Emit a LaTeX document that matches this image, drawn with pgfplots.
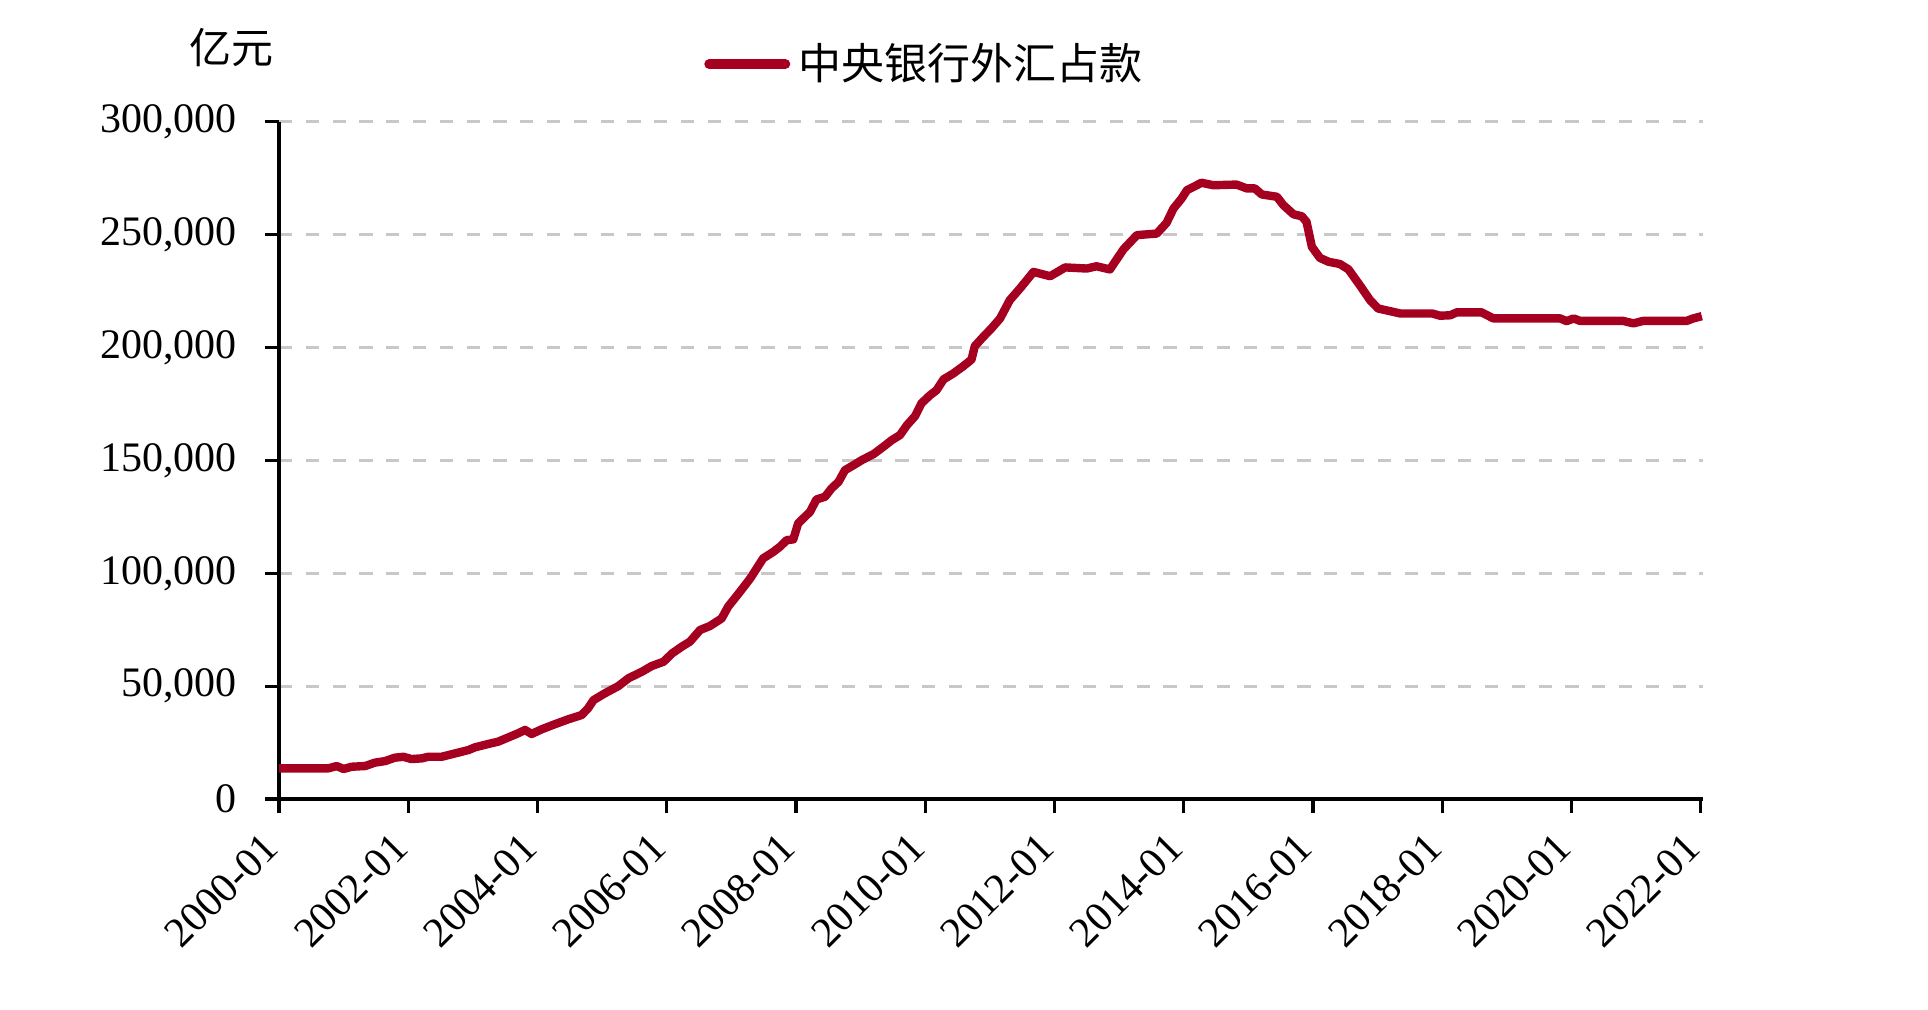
\documentclass[border=0pt]{standalone}
\usepackage{pgfplots}
\pgfplotsset{compat=1.18}
\usepackage{fontspec}
\setmainfont{Liberation Serif}
\newfontfamily\cjk{Noto Sans CJK SC}
\definecolor{lineRed}{RGB}{166,0,33}
\definecolor{gridGray}{RGB}{200,200,200}
\begin{document}
\begin{tikzpicture}
\useasboundingbox (-69.75bp,-52.75bp) rectangle (412.25bp,199.75bp);
\begin{axis}[
  at={(0,0)}, anchor=south west,
  scale only axis,
  width=356.1bp, height=169.3bp,
  xmin=0, xmax=264.5,
  ymin=0, ymax=300000,
  axis lines*=left,
  axis line style={black, line width=0.8bp},
  tick align=outside,
  major tick length=3.5bp,
  every tick/.style={black, line width=0.8bp},
  xtick={0,24,...,264},
  xticklabels={2000-01,2002-01,2004-01,2006-01,2008-01,2010-01,2012-01,2014-01,2016-01,2018-01,2020-01,2022-01},
  xticklabel style={yshift=-4.5bp, xshift=0.5bp, rotate=45, anchor=east},
  ytick={0,50000,...,300000},
  scaled y ticks=false,
  yticklabel style={xshift=-3.5bp, /pgf/number format/fixed, /pgf/number format/1000 sep={,}, /pgf/number format/assume math mode=true},
  tick label style={font=\fontsize{10.5bp}{12bp}\selectfont},
  ymajorgrids,
  major grid style={draw=gridGray, line width=0.7bp, dash pattern=on 3.3bp off 3.4bp},
  ylabel={\cjk 亿元},
  ylabel style={rotate=-90, at={(axis description cs:-0.033,1.109)}, anchor=center, font=\fontsize{10.5bp}{12bp}\selectfont},
  legend style={at={(axis description cs:0.298,1.0853)}, anchor=west, draw=none, fill=none, inner sep=0pt, font=\fontsize{10.75bp}{12bp}\selectfont\cjk},
  legend image code/.code={\draw[#1, line width=2.5bp, line cap=round] (0bp,0bp) -- (19bp,0bp);},
]
\addplot[lineRed, line width=2.1bp, line join=round, mark=none] table {
0 13600
9.2 13600
10.7 14600
12 13300
13.5 14300
16 14600
17.8 16100
19.7 16800
21.5 18300
23.1 18700
24.6 17700
26.5 18000
27.7 18700
30.2 18700
32.7 20200
35.2 21700
36.4 22900
38.9 24400
40.7 25400
42.6 27300
44.4 29100
45.7 30600
46.9 28800
48.8 30900
51.3 33200
53.7 35300
56.2 37200
57.4 40200
58.4 43800
60.5 46800
63 50000
64.9 53500
67.4 56400
69.2 58900
71.4 60800
73 64500
74.8 67500
76.3 69700
78.2 74900
80 76600
82.2 80000
83.4 85200
85.6 91800
87.5 97700
89.9 106600
91.8 109500
93 111700
94.3 114700
95.5 115000
96.4 122100
98.6 127200
99.8 132700
101.4 133900
102.6 137600
103.9 140500
105.1 145700
106.7 147900
108.2 150100
110.4 152800
112.2 156000
113.8 159000
115.3 161200
116.6 165600
118.1 169600
119.3 175300
120.9 178900
122.1 181100
123.4 185900
125.2 188500
127.1 191800
128.6 194700
129.2 200600
130.8 204800
132.3 208500
133.9 212900
135.7 221000
137.6 226200
140.1 233500
143.2 231600
146 235500
150 235000
151.8 236000
154.3 234600
156.8 243500
159.3 249800
163 250500
164.8 255200
166.1 261600
167.6 266000
168.6 269700
171.3 273000
173.5 271900
177.8 272200
179.7 270500
181.2 270500
182.5 267800
185.3 266800
186.5 263100
188.4 259000
189.9 258200
190.8 255700
191.8 244600
193.3 239700
194.9 238000
197 237000
198.6 234600
200.7 227600
202.6 221000
204.1 217300
206.9 215800
208.2 215100
214.1 215100
215.6 214100
217.5 214300
218.7 215600
223.3 215600
225.5 212900
237.9 212900
239.1 211700
240.4 212900
241.6 211800
249.6 211800
251.5 210700
253.3 211800
261.4 211800
262.6 212900
264.2 213900
};
\addlegendentry{中央银行外汇占款}
\end{axis}
\end{tikzpicture}
\end{document}
